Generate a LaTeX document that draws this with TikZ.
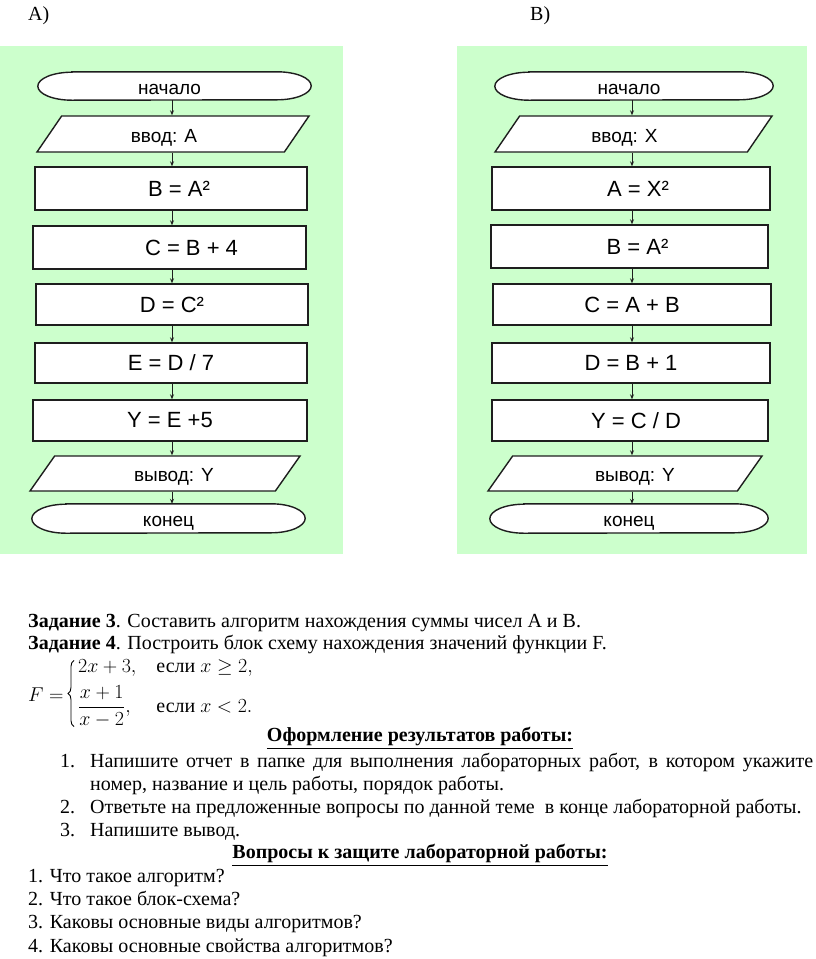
\RequirePackage{fix-cm}
\documentclass[tikz,border=0pt]{standalone}
\usepackage{amsmath}
\usepackage{fontspec}
\setmainfont{Liberation Serif}
\newfontfamily\sansfont{Liberation Sans}
\usetikzlibrary{shapes.geometric,arrows.meta,decorations.pathreplacing}
\pgfdeclarelayer{back}
\pgfdeclarelayer{shapes}
\pgfsetlayers{back,shapes,main}
\definecolor{panelgreen}{RGB}{204,255,204}
\definecolor{inkline}{RGB}{30,30,30}
\newcommand{\bodysize}{\fontsize{20}{23}\selectfont}
\newcommand{\eqfont}{\sansfont\fontsize{22}{26}\selectfont}
\newcommand{\lblfont}{\sansfont\fontsize{19}{22}\selectfont}
\tikzset{
  panel/.style={fill=panelgreen, draw=none},
  flow/.style={draw=inkline, line width=1.4pt, fill=white, inner sep=0pt},
  proc/.style 2 args={flow, rectangle, minimum width=#1, minimum height=#2, font=\eqfont},
  term/.style 2 args={rectangle, inner sep=0pt, minimum width=#1, minimum height=#2,
     font=\lblfont, text height=16pt, text depth=0pt},
  termline/.style={draw=inkline, line width=1.4pt, fill=white},
  io/.style 2 args={flow, trapezium, trapezium left angle=33, trapezium right angle=147,
     trapezium stretches body, minimum width=#1, minimum height=#2, font=\lblfont,
     text height=16pt, text depth=0pt},
  arr/.style={-{Stealth[length=5pt,width=4pt]}, line width=0.9pt, draw=inkline},
  txt/.style={anchor=base west, inner sep=0pt, font=\bodysize},
  head/.style={anchor=base, inner sep=0pt, font=\bodysize\bfseries},
  casebrace/.style={decorate, decoration={brace, amplitude=6pt}, line width=0.9pt}
}
\newlength{\termh}
% outline of a terminator node: straight sides and half-elliptic ends
\newcommand{\termoutline}[1]{%
  \begin{pgfonlayer}{shapes}
  \draw[termline] ([xshift=34pt]#1.north west) -- ([xshift=-34pt]#1.north east)
     arc[start angle=90, end angle=-90, x radius=34pt, y radius=0.5*\termh]
     -- ([xshift=34pt]#1.south west)
     arc[start angle=270, end angle=90, x radius=34pt, y radius=0.5*\termh] -- cycle;
  \end{pgfonlayer}}
\begin{document}
\begin{tikzpicture}[x=1pt,y=-1pt]
\useasboundingbox (0,0) rectangle (816,959);
\begin{pgfonlayer}{back}
\fill[white] (0,0) rectangle (816,959);
% green panels
\fill[panel] (0,46) rectangle (343,554);
\fill[panel] (457,46) rectangle (807,554);
\end{pgfonlayer}

% panel labels
\node[txt] (labA) at (28,20) {A)};
\node[txt] (labB) at (530,20) {B)};

\coordinate (cA) at (172,0);
\coordinate (cB) at (632,0);

% ---------- flowchart A ----------
\node[term={273}{28}] (startA) at (174.5,86) {начало\hspace*{10pt}};
\node[io={272}{36}] (inA) at (173,134) {ввод: A\hspace*{18pt}};
\node[proc={272}{43}] (a1) at (171,188.5) {\hspace*{16pt}B = A²};
\node[proc={273}{43}] (a2) at (169.5,247.5) {\hspace*{44pt}C = B + 4};
\node[proc={272}{41}] (a3) at (172,304.5) {D = C²};
\node[proc={272}{40}] (a4) at (171,363) {E = D / 7};
\node[proc={274}{41}] (a5) at (170,420.5) {Y = E +5};
\node[io={270}{35}] (outA) at (165,473.5) {\hspace*{18pt}вывод: Y};
\node[term={273}{29}] (endA) at (168.5,518.5) {конец};
\setlength{\termh}{28pt}\termoutline{startA}
\setlength{\termh}{29pt}\termoutline{endA}

\draw[arr] (startA.south -| cA) -- (inA.north -| cA);
\draw[arr] (inA.south -| cA) -- (a1.north -| cA);
\draw[arr] (a1.south -| cA) -- (a2.north -| cA);
\draw[arr] (a2.south -| cA) -- (a3.north -| cA);
\draw[arr] (a3.south -| cA) -- (a4.north -| cA);
\draw[arr] (a4.south -| cA) -- (a5.north -| cA);
\draw[arr] (a5.south -| cA) -- (outA.north -| cA);
\draw[arr] (outA.south -| cA) -- (endA.north -| cA);

% ---------- flowchart B ----------
\node[term={278}{28}] (startB) at (634,86) {начало\hspace*{10pt}};
\node[io={277}{36}] (inB) at (633.5,134) {ввод: X\hspace*{18pt}};
\node[proc={278}{43}] (b1) at (631,188.5) {\hspace*{14pt}A = X²};
\node[proc={277}{43}] (b2) at (629.5,246.5) {\hspace*{16pt}B = A²};
\node[proc={278}{41}] (b3) at (632,304.5) {C = A + B};
\node[proc={278}{40}] (b4) at (631,363) {D = B + 1};
\node[proc={276}{41}] (b5) at (630,420.5) {\hspace*{12pt}Y = C / D};
\node[io={274}{35}] (outB) at (625,473.5) {\hspace*{20pt}вывод: Y};
\node[term={278}{29}] (endB) at (629,518.5) {конец};
\setlength{\termh}{28pt}\termoutline{startB}
\setlength{\termh}{29pt}\termoutline{endB}

\draw[arr] (startB.south -| cB) -- (inB.north -| cB);
\draw[arr] (inB.south -| cB) -- (b1.north -| cB);
\draw[arr] (b1.south -| cB) -- (b2.north -| cB);
\draw[arr] (b2.south -| cB) -- (b3.north -| cB);
\draw[arr] (b3.south -| cB) -- (b4.north -| cB);
\draw[arr] (b4.south -| cB) -- (b5.north -| cB);
\draw[arr] (b5.south -| cB) -- (outB.north -| cB);
\draw[arr] (outB.south -| cB) -- (endB.north -| cB);

% ---------- text ----------
\node[txt] (t3) at (28,627) {\textbf{Задание 3}. Составить алгоритм нахождения суммы чисел А и В.};
\node[txt] (t4) at (28,649) {\textbf{Задание 4}. Построить блок схему нахождения значений функции F.};
\node[txt] (fF) at (28,701) {$F=$};
\node[anchor=west, inner sep=0pt, font=\bodysize] (fcases) at (78,692)
  {$\begin{array}{@{}l@{\quad}l}2x+3, & \text{если } x\geq 2,\\[6pt]
     \dfrac{x+1}{x-2}, & \text{если } x<2.\end{array}$};
\draw[casebrace] ([xshift=-4pt,yshift=1pt]fcases.south west) -- ([xshift=-4pt,yshift=-4pt]fcases.north west);

\node[head] (h1) at (420,741) {\underline{Оформление результатов работы:}};
\node[txt] (n1) at (60,767) {1.};
\node[txt] (i1a) at (90,767) {\makebox[723pt][s]{Напишите отчет в папке для выполнения лабораторных работ, в котором укажите}};
\node[txt] (i1b) at (90,790) {номер, название и цель работы, порядок работы.};
\node[txt] (n2) at (60,813) {2.};
\node[txt] (i2) at (90,813) {Ответьте на предложенные вопросы по данной теме \ в конце лабораторной работы.};
\node[txt] (n3) at (60,836) {3.};
\node[txt] (i3) at (90,836) {Напишите вывод.};

\node[head] (h2) at (420,858) {\underline{Вопросы к защите лабораторной работы:}};
\node[txt] (q1) at (28,882) {1. Что такое алгоритм?};
\node[txt] (q2) at (28,905) {2. Что такое блок-схема?};
\node[txt] (q3) at (28,928) {3. Каковы основные виды алгоритмов?};
\node[txt] (q4) at (28,952) {4. Каковы основные свойства алгоритмов?};
\end{tikzpicture}
\end{document}
